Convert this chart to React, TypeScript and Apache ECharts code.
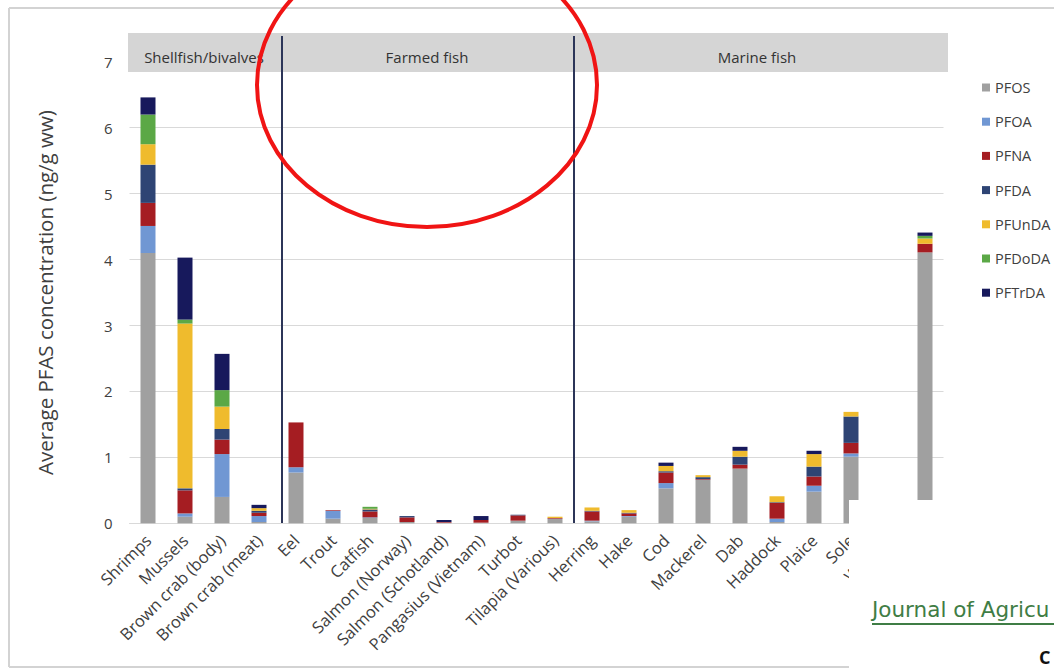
import React, { useEffect, useRef } from "react";
import * as echarts from "echarts";

// Products, grouped as shellfish, farmed fish and marine fish
const categories = [
  "Shrimps",
  "Mussels",
  "Brown crab (body)",
  "Brown crab (meat)",
  "Eel",
  "Trout",
  "Catfish",
  "Salmon (Norway)",
  "Salmon (Schotland)",
  "Pangasius (Vietnam)",
  "Turbot",
  "Tilapia (Various)",
  "Herring",
  "Hake",
  "Cod",
  "Mackerel",
  "Dab",
  "Haddock",
  "Plaice",
  "Sole",
  "Whiting",
  "Tuna",
];

// Average concentration per compound (ng/g ww)
const pfos = [4.10, 0.10, 0.40, 0.02, 0.77, 0.07, 0.08, 0.02, 0.01, 0.01, 0.04, 0.07, 0.03, 0.10, 0.53, 0.66, 0.83, 0.02, 0.48, 1.01, 0, 4.11];
const pfoa = [0.41, 0.05, 0.65, 0.09, 0.08, 0.12, 0.01, 0, 0, 0, 0, 0, 0.01, 0.01, 0.08, 0, 0, 0.05, 0.09, 0.05, 0, 0];
const pfna = [0.35, 0.35, 0.22, 0.05, 0.68, 0.01, 0.09, 0.07, 0.01, 0.04, 0.08, 0.01, 0.14, 0.04, 0.16, 0.01, 0.06, 0.24, 0.14, 0.16, 0, 0.13];
const pfda = [0.58, 0.03, 0.16, 0.03, 0, 0, 0.03, 0.02, 0, 0, 0.01, 0, 0.01, 0.01, 0.02, 0.03, 0.12, 0.01, 0.15, 0.40, 0, 0];
const pfunda = [0.31, 2.50, 0.34, 0.04, 0, 0, 0.01, 0, 0, 0, 0, 0.02, 0.05, 0.04, 0.08, 0.03, 0.09, 0.09, 0.19, 0.07, 0, 0.08];
const pfdoda = [0.45, 0.06, 0.25, 0, 0, 0, 0.03, 0, 0, 0, 0, 0, 0, 0, 0, 0, 0, 0, 0, 0, 0, 0.04];
const pftrda = [0.26, 0.94, 0.55, 0.05, 0, 0, 0, 0, 0.03, 0.06, 0, 0, 0, 0, 0.05, 0, 0.06, 0, 0.05, 0, 0, 0.05];

const compounds = ["PFOS", "PFOA", "PFNA", "PFDA", "PFUnDA", "PFDoDA", "PFTrDA"];
const compoundValues = [pfos, pfoa, pfna, pfda, pfunda, pfdoda, pftrda];
const compoundColors = ["#a0a0a0", "#7097d3", "#a51d22", "#2e4474", "#efbb2d", "#5ba846", "#17195c"];

const groupLabels = ["Shellfish/bivalves", "Farmed fish", "Marine fish"];
const yTicks = [0, 1, 2, 3, 4, 5, 6, 7];

const FONT = "'Open Sans', 'Noto Sans', sans-serif";

export default function App() {
  const ref = useRef<HTMLDivElement | null>(null);

  useEffect(() => {
    if (!ref.current) return;
    const chart = echarts.init(ref.current, undefined, { renderer: "svg" });

    const series = compounds.map((name, i) => ({
      name,
      type: "bar" as const,
      stack: "total",
      barWidth: 15,
      data: compoundValues[i],
      itemStyle: { color: compoundColors[i] },
      emphasis: { disabled: true },
    }));

    const frameColor = "#d3d3d3";
    const sepColor = "#2c3558";

    chart.setOption({
      animation: false,
      backgroundColor: "#ffffff",
      textStyle: { fontFamily: FONT },
      grid: { left: 129.5, right: 110.5, top: 61.8, bottom: 147.7, containLabel: false },
      legend: {
        orient: "vertical",
        left: 982,
        top: 80,
        padding: 0,
        itemWidth: 8,
        itemHeight: 8,
        itemGap: 19.2,
        icon: "rect",
        data: compounds,
        textStyle: { fontSize: 14.5, color: "#404040", lineHeight: 15, fontFamily: FONT },
      },
      xAxis: {
        type: "category",
        data: categories,
        axisTick: { show: false },
        axisLine: { lineStyle: { color: "#d9d9d9", width: 1 } },
        axisLabel: {
          interval: 0,
          rotate: 45,
          margin: 14,
          fontSize: 16.5,
          color: "#404040",
          fontFamily: FONT,
        },
      },
      yAxis: {
        type: "value",
        min: yTicks[0],
        max: yTicks[yTicks.length - 1],
        interval: 1,
        name: "Average PFAS concentration (ng/g ww)",
        nameLocation: "middle",
        nameGap: 74,
        nameTextStyle: { fontSize: 20.5, color: "#404040", fontFamily: FONT },
        axisLine: { show: false },
        axisTick: { show: false },
        splitLine: { lineStyle: { color: "#d9d9d9", width: 1 } },
        axisLabel: { fontSize: 15, color: "#404040", margin: 17, fontFamily: FONT },
      },
      series,
      graphic: [
        // outer frame of the figure
        { type: "line", z: 50, shape: { x1: 9, y1: 8, x2: 1054, y2: 8 }, style: { stroke: frameColor, lineWidth: 2 } },
        { type: "line", z: 50, shape: { x1: 9, y1: 8, x2: 9, y2: 667 }, style: { stroke: frameColor, lineWidth: 2 } },
        { type: "line", z: 50, shape: { x1: 9, y1: 667, x2: 850, y2: 667 }, style: { stroke: frameColor, lineWidth: 2 } },
        // group header band
        { type: "rect", z: 5, shape: { x: 128, y: 33, width: 820, height: 39 }, style: { fill: "#d5d5d5" } },
        { type: "text", z: 6, x: 204, y: 57, style: { text: groupLabels[0], fontSize: 15, fill: "#333333", fontFamily: FONT, align: "center", verticalAlign: "middle" } },
        { type: "text", z: 6, x: 427, y: 57, style: { text: groupLabels[1], fontSize: 15, fill: "#333333", fontFamily: FONT, align: "center", verticalAlign: "middle" } },
        { type: "text", z: 6, x: 757, y: 57, style: { text: groupLabels[2], fontSize: 15, fill: "#333333", fontFamily: FONT, align: "center", verticalAlign: "middle" } },
        // group separators
        { type: "line", z: 7, shape: { x1: 282, y1: 36, x2: 282, y2: 523 }, style: { stroke: sepColor, lineWidth: 2 } },
        { type: "line", z: 7, shape: { x1: 574, y1: 36, x2: 574, y2: 523 }, style: { stroke: sepColor, lineWidth: 2 } },
        // page overlay in the lower right
        { type: "rect", z: 100, shape: { x: 849, y: 500, width: 205, height: 171 }, style: { fill: "#ffffff" } },
        { type: "text", z: 101, x: 872, y: 609, style: { text: "Journal of Agricu", fontSize: 21.5, fill: "#3f7d45", fontFamily: "'DejaVu Sans', sans-serif", verticalAlign: "middle" } },
        { type: "line", z: 101, shape: { x1: 872, y1: 624, x2: 1054, y2: 624 }, style: { stroke: "#3f7d45", lineWidth: 2 } },
        { type: "text", z: 101, x: 1039, y: 657, style: { text: "C", fontSize: 18, fontWeight: "bold", fill: "#111111", fontFamily: FONT, verticalAlign: "middle" } },
        // red highlight ellipse
        { type: "ellipse", z: 110, shape: { cx: 427, cy: 85, rx: 170, ry: 142 }, style: { fill: "none", stroke: "#f01414", lineWidth: 4 } },
      ],
    });

    return () => chart.dispose();
  }, []);

  return (
    <div
      ref={ref}
      style={{ position: "absolute", left: 0, top: 0, width: 1054, height: 671, background: "#ffffff" }}
    />
  );
}
